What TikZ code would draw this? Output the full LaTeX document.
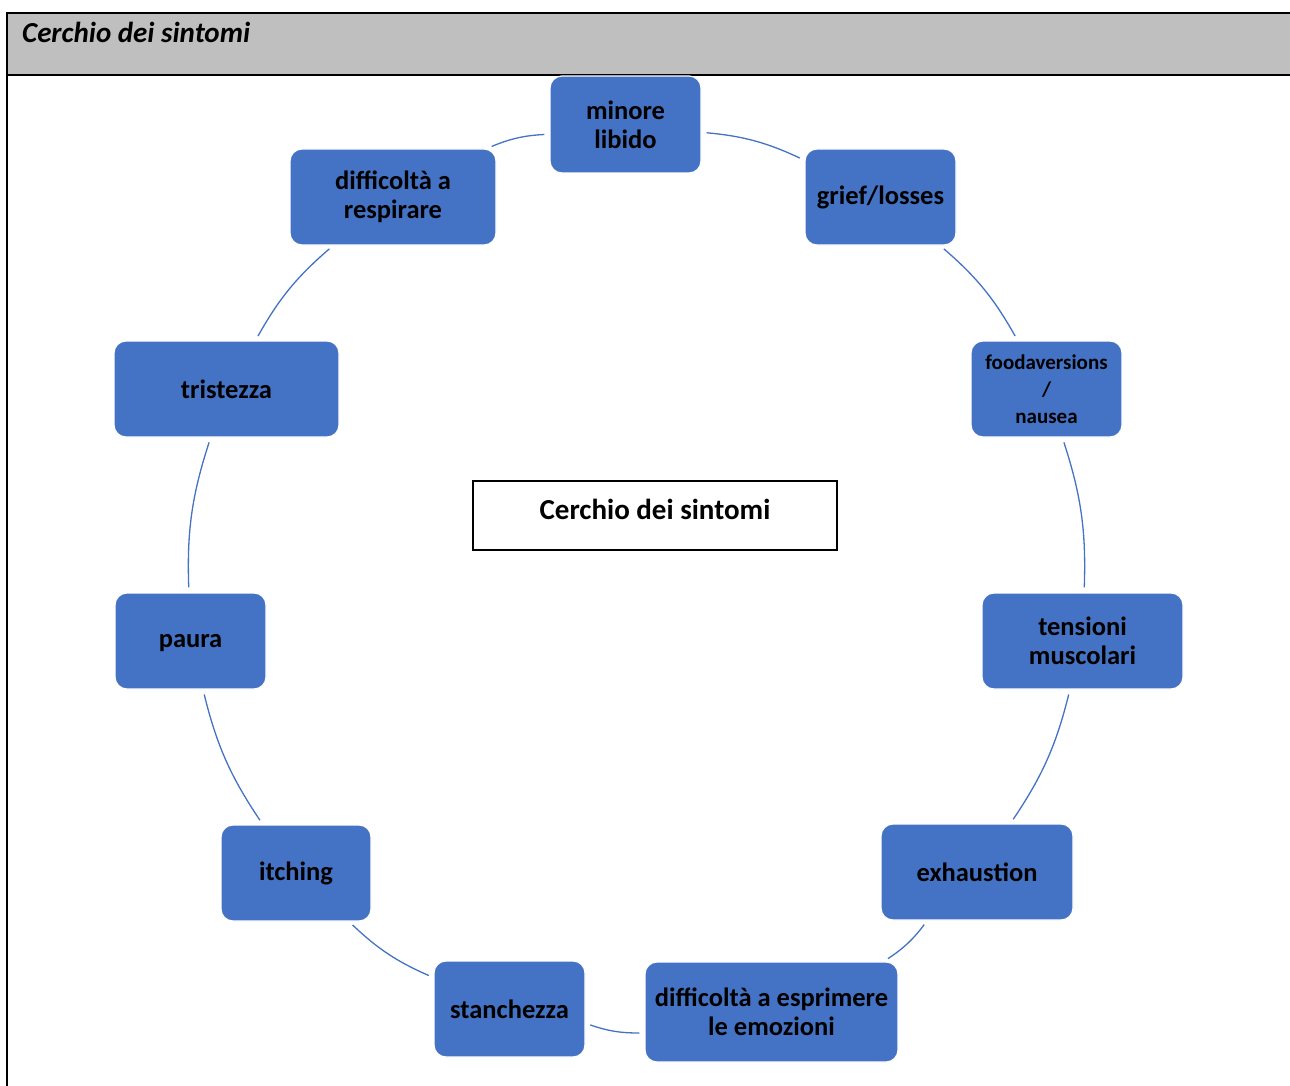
\documentclass[tikz,border=0pt]{standalone}
\usepackage{fontspec}
\setmainfont{Carlito}
\definecolor{offblue}{HTML}{4472C4}
\definecolor{hdrgray}{HTML}{BFBFBF}
\tikzset{
  sym/.style={fill=offblue, draw=white, line width=1.2pt, rounded corners=12pt,
    align=center, inner sep=2pt, text=black,
    font=\bfseries\fontsize{26.5}{29}\selectfont},
  arcline/.style={draw=offblue, line width=1.3pt, bend left=10, shorten >=5pt, shorten <=5pt},
}
\begin{document}
\begin{tikzpicture}[x=1pt,y=-1pt]
\useasboundingbox (0,0) rectangle (1290,1086);
% header frame
\fill[hdrgray] (7,13) rectangle (1292,75);
\draw[line width=2.5pt] (1292,13) -- (7,13) -- (7,1090);
\draw[line width=2.5pt] (7,75) -- (1292,75);
\node[anchor=west, font=\bfseries\itshape\fontsize{29}{32}\selectfont, inner sep=0pt] (hdr) at (22,32) {Cerchio dei sintomi};
% center box
\node[draw=black, line width=1.6pt, fill=white, minimum width=364pt, minimum height=69pt,
  text depth=12pt, font=\bfseries\fontsize{29}{32}\selectfont] (ctr) at (655,515.5) {Cerchio dei sintomi};
% symptom nodes
\node[sym, minimum width=151pt, minimum height=97pt] (n1) at (625.5,124.5) {minore\\libido};
\node[sym, minimum width=151pt, minimum height=96pt] (n2) at (880.5,197) {grief/losses};
\node[sym, minimum width=151pt, minimum height=96pt, font=\bfseries\fontsize{21}{27}\selectfont] (n3) at (1046.5,389) {foodaversions\\/\\nausea};
\node[sym, minimum width=201pt, minimum height=96pt] (n4) at (1082.5,641) {tensioni\\muscolari};
\node[sym, minimum width=192pt, minimum height=96pt] (n5) at (977,872) {exhaustion};
\node[sym, minimum width=253pt, minimum height=100pt] (n6) at (771.5,1012) {difficoltà a esprimere\\le emozioni};
\node[sym, minimum width=151pt, minimum height=96pt] (n7) at (509.5,1009) {stanchezza};
\node[sym, minimum width=150pt, minimum height=96pt] (n8) at (296,873) {itching};
\node[sym, minimum width=151pt, minimum height=96pt, text depth=0pt] (n9) at (190.5,641) {paura};
\node[sym, minimum width=225pt, minimum height=96pt] (n10) at (226.5,389) {tristezza};
\node[sym, minimum width=206pt, minimum height=96pt] (n11) at (393,197) {difficoltà a\\respirare};
% circle connectors
\draw[arcline] (n1) to (n2);
\draw[arcline] (n2) to (n3);
\draw[arcline] (n3) to (n4);
\draw[arcline] (n4) to (n5);
\draw[arcline] (n5) to (n6);
\draw[arcline] (n6) to (n7);
\draw[arcline] (n7) to (n8);
\draw[arcline] (n8) to (n9);
\draw[arcline] (n9) to (n10);
\draw[arcline] (n10) to (n11);
\draw[arcline] (n11) to (n1);
\end{tikzpicture}
\end{document}
